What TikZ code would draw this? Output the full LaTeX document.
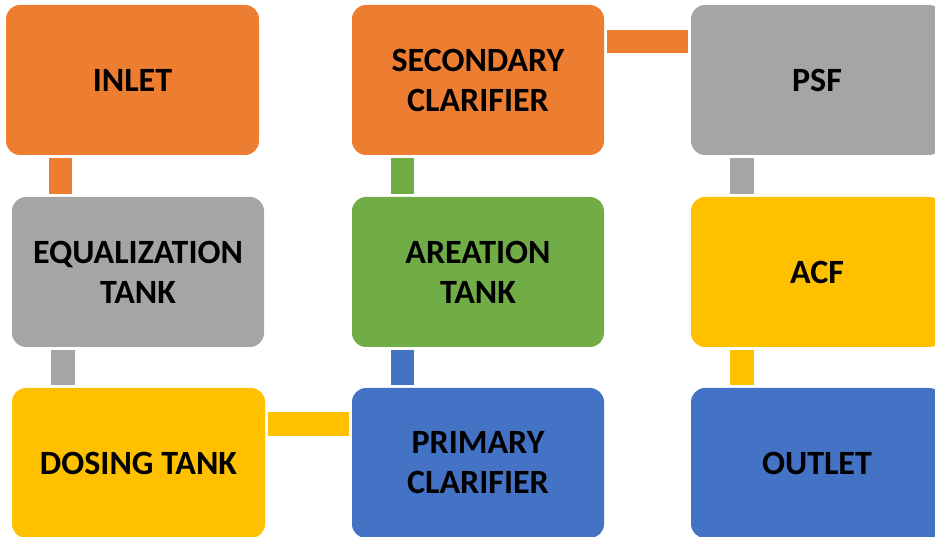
\documentclass[tikz,border=0pt]{standalone}
\usepackage{fontspec}
\setmainfont{Carlito}
\usepackage{xcolor}
\usepackage{tikz}
\definecolor{stOrange}{HTML}{ED7D31}
\definecolor{stGray}{HTML}{A5A5A5}
\definecolor{stYellow}{HTML}{FFC000}
\definecolor{stBlue}{HTML}{4472C4}
\definecolor{stGreen}{HTML}{70AD47}

\begin{document}
\begin{tikzpicture}[x=1pt, y=-1pt,
  stage/.style={rectangle, rounded corners=14pt, minimum width=252pt, minimum height=150pt,
    inner sep=0pt, align=center, text=black, font=\bfseries\fontsize{34}{40}\selectfont},
  link/.style={line width=23.5pt, shorten <=3pt, shorten >=3pt}]
\useasboundingbox (0,0) rectangle (935,537);

% left column
\node[stage, fill=stOrange, minimum width=253pt] (inlet) at (132.5,80) {INLET};
\node[stage, fill=stGray] (equal) at (138,272) {EQUALIZATION\\TANK};
\node[stage, fill=stYellow, minimum width=253pt] (dosing) at (138.5,463) {DOSING TANK};

% middle column
\node[stage, fill=stOrange] (secondary) at (478,80) {SECONDARY\\CLARIFIER};
\node[stage, fill=stGreen] (areation) at (478,272) {AREATION\\TANK};
\node[stage, fill=stBlue] (primary) at (478,463) {PRIMARY\\CLARIFIER};

% right column
\node[stage, fill=stGray] (psf) at (817,80) {PSF};
\node[stage, fill=stYellow] (acf) at (817,272) {ACF};
\node[stage, fill=stBlue] (outlet) at (817,463) {OUTLET};

% links
\draw[link, stOrange] ([xshift=54.5pt]inlet.south west) -- ([xshift=54.5pt]inlet.south west |- equal.north);
\draw[link, stGray] ([xshift=51pt]equal.south west) -- ([xshift=51pt]equal.south west |- dosing.north);
\draw[link, stYellow] ([yshift=-36pt]dosing.north east) -- ([yshift=-36pt]dosing.north east -| primary.west);
\draw[link, stBlue] ([xshift=50.5pt]primary.north west) -- ([xshift=50.5pt]primary.north west |- areation.south);
\draw[link, stGreen] ([xshift=50.5pt]areation.north west) -- ([xshift=50.5pt]areation.north west |- secondary.south);
\draw[link, stOrange] ([yshift=-36.5pt]secondary.north east) -- ([yshift=-36.5pt]secondary.north east -| psf.west);
\draw[link, stGray] ([xshift=51pt]psf.south west) -- ([xshift=51pt]psf.south west |- acf.north);
\draw[link, stYellow] ([xshift=51pt]acf.south west) -- ([xshift=51pt]acf.south west |- outlet.north);
\end{tikzpicture}
\end{document}
